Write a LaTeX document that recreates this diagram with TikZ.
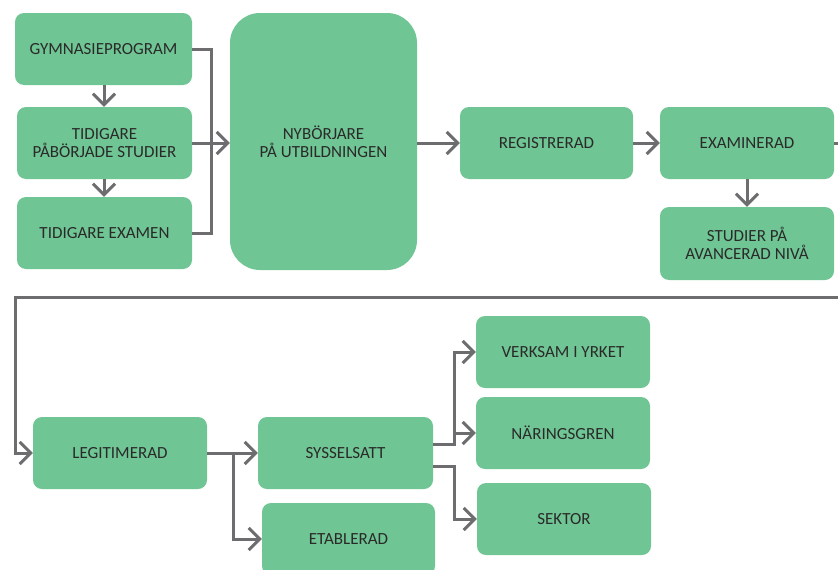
\documentclass[tikz,border=0pt]{standalone}
\usepackage{fontspec}
\setmainfont{Carlito}
\usetikzlibrary{arrows.meta}
\definecolor{boxgreen}{HTML}{6FC593}
\definecolor{linegray}{HTML}{6D6D70}
\definecolor{txt}{HTML}{2A2A2A}
\begin{document}
\begin{tikzpicture}[x=1pt,y=-1pt,
  box/.style={fill=boxgreen, draw=none, rounded corners=9pt, text=txt, align=center, inner sep=0pt,
     font=\fontsize{17}{18}\selectfont},
  conn/.style={draw=linegray, line width=3pt, -{Straight Barb[length=11pt,width=22pt,line width=3pt]}},
  plain/.style={draw=linegray, line width=3pt}
]
\useasboundingbox (0,0) rectangle (838,570);
% boxes (x, y in pixel coords)
\node[box, minimum width=177pt, minimum height=72pt] (gym) at (103.5,49) {GYMNASIEPROGRAM};
\node[box, minimum width=175pt, minimum height=72pt] (tps) at (104.5,143) {TIDIGARE\\PÅBÖRJADE STUDIER};
\node[box, minimum width=175pt, minimum height=72pt] (tex) at (104.5,233) {TIDIGARE EXAMEN};
\node[box, rounded corners=30pt, minimum width=187pt, minimum height=257pt] (nyb) at (323.5,141.5) {NYBÖRJARE\\PÅ UTBILDNINGEN};
\node[box, minimum width=173pt, minimum height=72pt] (reg) at (546.5,143) {REGISTRERAD};
\node[box, minimum width=174pt, minimum height=72pt] (exa) at (747,143) {EXAMINERAD};
\node[box, minimum width=174pt, minimum height=73pt] (ava) at (747,243.5) {STUDIER PÅ\\AVANCERAD NIVÅ};
\node[box, minimum width=174pt, minimum height=72pt] (leg) at (120,453) {LEGITIMERAD};
\node[box, minimum width=175pt, minimum height=72pt] (sys) at (345.5,453) {SYSSELSATT};
\node[box, minimum width=173pt, minimum height=72pt] (eta) at (348.5,539) {ETABLERAD};
\node[box, minimum width=174pt, minimum height=72pt] (ver) at (563,352) {VERKSAM I YRKET};
\node[box, minimum width=174pt, minimum height=72pt] (nar) at (563,433) {NÄRINGSGREN};
\node[box, minimum width=174pt, minimum height=72pt] (sek) at (564,519) {SEKTOR};
% helper coordinates
\coordinate (j1) at (211,0);
\coordinate (far) at (850,143);
\coordinate (back) at (15,297);
\coordinate (j2) at (233,0);
\coordinate (j3) at (454,0);
% connectors
\draw[conn] (gym.south -| 104,0) -- (tps.north -| 104,0);
\draw[conn] (tps.south -| 104,0) -- (tex.north -| 104,0);
\draw[plain] (gym.east) -- (gym.east -| j1) -- (tex.east -| j1) -- (tex.east);
\draw[conn] (tps.east) -- (nyb.west |- tps.east);
\draw[conn] (nyb.east |- reg.west) -- (reg.west);
\draw[conn] (reg.east) -- (exa.west);
\draw[conn] (exa.south) -- (ava.north);
\draw[conn] (exa.east) -- (far) |- (back) |- (leg.west);
\draw[conn] (leg.east) -- (sys.west);
\draw[conn] (leg.east -| j2) |- (eta.west);
\draw[conn] (sys.east |- 0,444) -| (j3 |- ver.west) -- (ver.west);
\draw[conn] (j3 |- nar.west) -- (nar.west);
\draw[conn] (sys.east |- 0,466) -| (j3 |- sek.west) -- (sek.west);
\end{tikzpicture}
\end{document}
